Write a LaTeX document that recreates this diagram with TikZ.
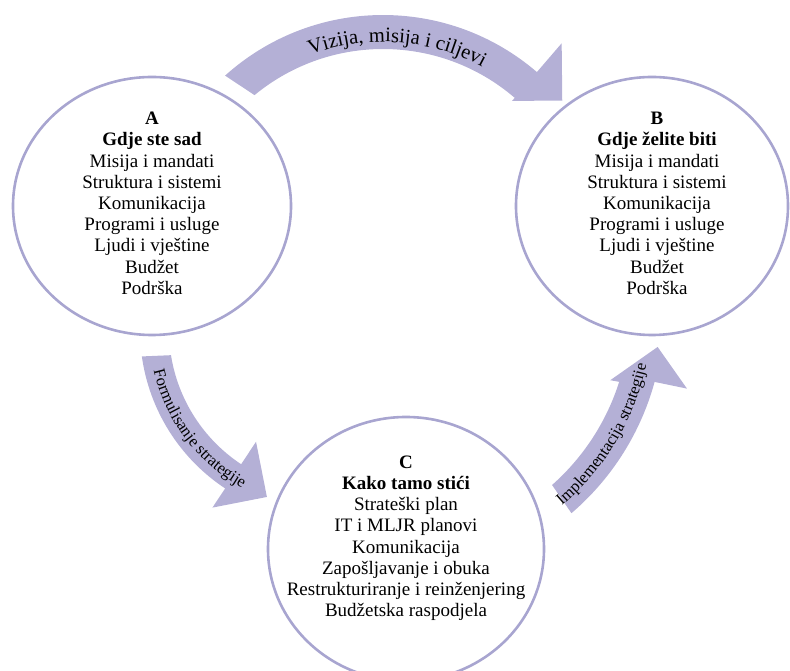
\documentclass[tikz,border=0pt]{standalone}
\usepackage{fontspec}
\setmainfont{Liberation Serif}
\usetikzlibrary{calc,shapes.geometric,decorations.text}
\definecolor{arrowfill}{RGB}{180,176,214}
\definecolor{circline}{RGB}{168,165,208}
\tikzset{
  ring/.style={ellipse, draw=circline, line width=2.6pt, inner sep=0pt},
  band/.style={fill=arrowfill, draw=none},
  circtext/.style={align=center, anchor=north, inner sep=0pt, font=\fontsize{19}{21.2}\selectfont},
}
\newcommand{\topfont}{\fontsize{20.5}{20.5}\selectfont}
\newcommand{\sidefont}{\fontsize{16.5}{16.5}\selectfont}
\begin{document}
\begin{tikzpicture}[x=1pt,y=1pt]
\useasboundingbox (0,0) rectangle (790,671);
\clip (0,0) rectangle (790,671);
% centres of the arrow arcs
\coordinate (Ot) at (383,420);
\coordinate (Ol) at (330,341);
\coordinate (Or) at (399,359);
% circles
\node[ring, minimum width=278pt, minimum height=258pt] (A) at (152,465) {};
\node[ring, minimum width=272pt, minimum height=258pt] (B) at (652,465) {};
\node[ring, minimum width=276pt, minimum height=264pt] (C) at (406,122) {};
% top arrow
\fill[band] ($(Ot)+(132:236)$) arc[start angle=132, end angle=49.3, radius=236]
  -- ($(Ot)+(49.3:274)$) -- ($(Ot)+(40:234)$) -- ($(Ot)+(49.3:198)$)
  -- ($(Ot)+(49.3:202)$) arc[start angle=49.3, end angle=129.5, radius=202] -- cycle;
% left arrow
\fill[band] ($(Ol)+(188:190)$) arc[start angle=188, end angle=236.5, radius=190]
  -- ($(Ol)+(236.5:213)$) -- ($(Ol)+(249.3:178.5)$) -- ($(Ol)+(236.5:134)$)
  -- ($(Ol)+(236.5:161)$) arc[start angle=236.5, end angle=189, radius=161] -- cycle;
% right arrow
\fill[band] ($(Or)+(-49.4:265)$) arc[start angle=-49.4, end angle=-15.3, radius=265]
  -- ($(Or)+(-14.9:298)$) -- ($(Or)+(-7.7:261)$) -- ($(Or)+(-17.9:222)$)
  -- ($(Or)+(-17.6:231)$) arc[start angle=-17.6, end angle=-48.5, radius=231] -- cycle;
% arrow labels
\path[decorate, decoration={text along path, text align=center,
  text={|\topfont|Vizija, misija i ciljevi}}]
  ($(Ot)+(150:209)$) arc[start angle=150, end angle=22, radius=209];
\path[decorate, decoration={text along path, text align=center,
  text={|\sidefont|Formulisanje strategije}}]
  ($(Ol)+(187:181)$) arc[start angle=187, end angle=247, radius=181];
\path[decorate, decoration={text along path, text align=center,
  text={|\sidefont|Implementacija strategije}}]
  ($(Or)+(-50:253)$) arc[start angle=-50, end angle=-12, radius=253];
% circle texts
\node[circtext] (Atext) at (152,559) {\textbf{A}\\ \textbf{Gdje ste sad}\\ Misija i mandati\\ Struktura i sistemi\\ Komunikacija\\ Programi i usluge\\ Ljudi i vještine\\ Budžet\\ Podrška};
\node[circtext] (Btext) at (657,559) {\textbf{B}\\ \textbf{Gdje želite biti}\\ Misija i mandati\\ Struktura i sistemi\\ Komunikacija\\ Programi i usluge\\ Ljudi i vještine\\ Budžet\\ Podrška};
\node[circtext] (Ctext) at (406,215.5) {\textbf{C}\\ \textbf{Kako tamo stići}\\ Strateški plan\\ IT i MLJR planovi\\ Komunikacija\\ Zapošljavanje i obuka\\ Restrukturiranje i reinženjering\\ Budžetska raspodjela};
\end{tikzpicture}
\end{document}
